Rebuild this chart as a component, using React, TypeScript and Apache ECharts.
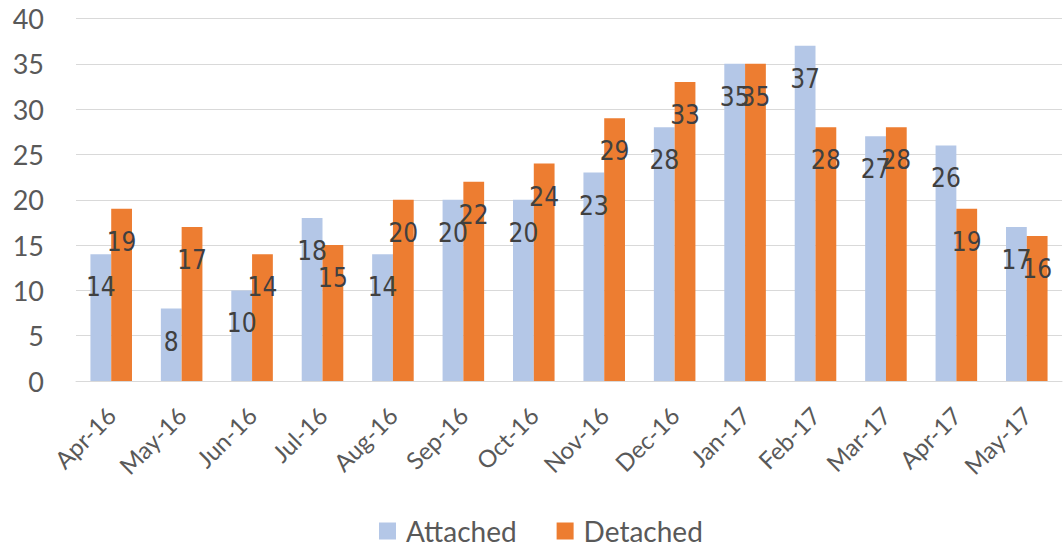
import React, { useEffect, useRef } from "react";
import * as echarts from "echarts";

const categories = ["Apr-16", "May-16", "Jun-16", "Jul-16", "Aug-16", "Sep-16", "Oct-16", "Nov-16", "Dec-16", "Jan-17", "Feb-17", "Mar-17", "Apr-17", "May-17"];
const attached = [14, 8, 10, 18, 14, 20, 20, 23, 28, 35, 37, 27, 26, 17];
const detached = [19, 17, 14, 15, 20, 22, 24, 29, 33, 35, 28, 28, 19, 16];

const axisFont = "Lato, 'Open Sans', sans-serif";
const labelFont = "'Liberation Sans Narrow', 'DejaVu Sans Condensed', Lato, sans-serif";

export default function App() {
  const ref = useRef<HTMLDivElement>(null);
  useEffect(() => {
    if (!ref.current) return;
    const chart = echarts.init(ref.current, null, { renderer: "svg" });
    const dataLabel = {
      show: true,
      position: "insideTop",
      distance: 5,
      offset: [0, 15],
      color: "#404040",
      fontSize: 26,
      fontFamily: labelFont,
    };
    chart.setOption({
      animation: false,
      backgroundColor: "#ffffff",
      grid: { left: 76, right: 1, top: 18.5, bottom: 167, containLabel: false },
      legend: {
        data: ["Attached", "Detached"],
        left: 374,
        top: 512,
        itemWidth: 17,
        itemHeight: 17,
        itemGap: 40,
        icon: "rect",
        textStyle: { fontSize: 28, color: "#595959", fontFamily: axisFont, padding: [0, 0, 0, 5] },
      },
      xAxis: {
        type: "category",
        data: categories,
        axisLine: { show: true, lineStyle: { color: "#d9d9d9", width: 1 } },
        axisTick: { show: false },
        axisLabel: {
          rotate: 45,
          interval: 0,
          margin: 30,
          fontSize: 24,
          color: "#595959",
          fontFamily: axisFont,
        },
      },
      yAxis: {
        type: "value",
        min: 0,
        max: 40,
        interval: 5,
        axisLine: { show: false },
        axisTick: { show: false },
        splitLine: { lineStyle: { color: "#d9d9d9", width: 1 } },
        axisLabel: { margin: 32, fontSize: 27, color: "#595959", fontFamily: axisFont },
      },
      series: [
        {
          name: "Attached",
          type: "bar",
          data: attached,
          barGap: "0%",
          barCategoryGap: "41%",
          itemStyle: { color: "#B4C7E7" },
          label: dataLabel,
        },
        {
          name: "Detached",
          type: "bar",
          data: detached,
          barGap: "0%",
          barCategoryGap: "41%",
          itemStyle: { color: "#ED7D31" },
          label: dataLabel,
        },
      ],
    });
    return () => chart.dispose();
  }, []);
  return <div ref={ref} style={{ position: "fixed", left: 0, top: 0, width: 1063, height: 548 }} />;
}
